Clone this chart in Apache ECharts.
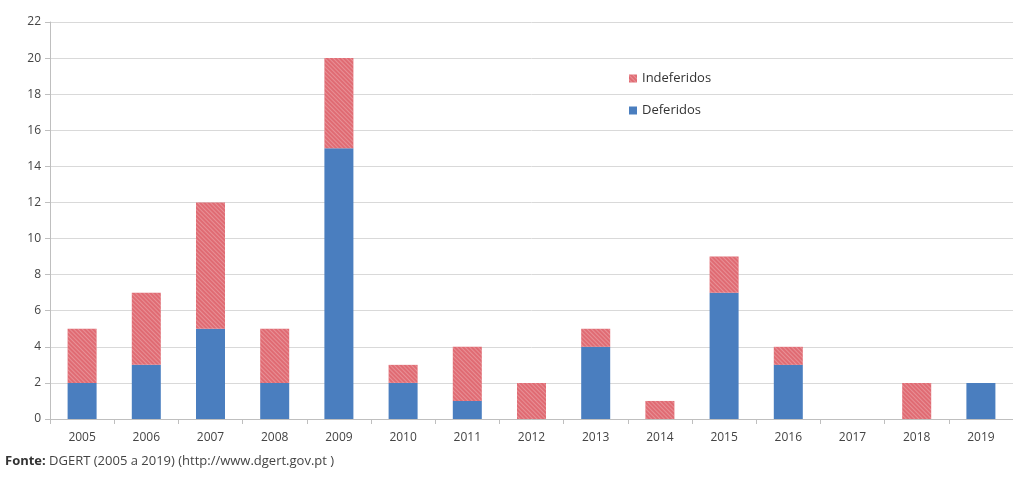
<!DOCTYPE html>
<html>
<head>
<meta charset="utf-8">
<script src="https://cdn.jsdelivr.net/npm/echarts@6/dist/echarts.min.js"></script>
<style>
html,body{margin:0;padding:0;background:#fff;}
#main{width:1013px;height:481px;}
</style>
</head>
<body>
<div id="main"></div>
<script>
/*dados*/
var anos = ['2005','2006','2007','2008','2009','2010','2011','2012','2013','2014','2015','2016','2017','2018','2019'];
var deferidos = [2, 3, 5, 2, 15, 2, 1, 0, 4, 0, 7, 3, 0, 0, 2];
var indeferidos = [3, 4, 7, 3, 5, 1, 3, 2, 1, 1, 2, 1, 0, 2, 0];

var chart = echarts.init(document.getElementById('main'));
var fonte = '"Open Sans", "Liberation Sans", sans-serif';

var option = {
    animation: false,
    textStyle: {fontFamily: fonte},
    grid: {left: 50, right: -12, top: 22, bottom: 62},
    legend: {
        orient: 'vertical',
        left: 624,
        top: 67,
        itemGap: 19,
        itemWidth: 8,
        itemHeight: 8,
        icon: 'rect',
        data: ['Indeferidos', 'Deferidos'],
        textStyle: {fontSize: 13, color: '#333', fontFamily: fonte}
    },
    xAxis: {
        type: 'category',
        data: anos,
        axisLine: {lineStyle: {color: '#bfbfbf'}},
        axisTick: {show: true, length: 5, lineStyle: {color: '#bfbfbf'}},
        axisLabel: {color: '#444', fontSize: 12, margin: 13}
    },
    yAxis: {
        type: 'value',
        min: 0,
        max: 22,
        interval: 2,
        axisLine: {show: true, lineStyle: {color: '#bfbfbf'}},
        axisTick: {show: true, length: 5, lineStyle: {color: '#bfbfbf'}},
        splitLine: {lineStyle: {color: '#d9d9d9'}},
        axisLabel: {color: '#444', fontSize: 12, margin: 9}
    },
    series: [
        {
            name: 'Deferidos',
            type: 'bar',
            stack: 'total',
            barWidth: 29,
            data: deferidos,
            itemStyle: {color: '#4a7ebf'}
        },
        {
            name: 'Indeferidos',
            type: 'bar',
            stack: 'total',
            barWidth: 29,
            data: indeferidos,
            itemStyle: {
                color: '#e06b73',
                decal: {
                    symbol: 'rect',
                    dashArrayX: [1, 0],
                    dashArrayY: [1, 2],
                    rotation: Math.PI / 4,
                    color: 'rgba(255,255,255,0.25)'
                }
            }
        }
    ],
    graphic: [{
        type: 'text',
        left: 5,
        top: 455,
        style: {
            rich: {
                b: {fontWeight: 'bold', fontSize: 13, fill: '#333', fontFamily: fonte},
                n: {fontSize: 13, fill: '#444', fontFamily: fonte}
            },
            text: '{b|Fonte:} {n|DGERT (2005 a 2019) (http://www.dgert.gov.pt )}'
        }
    }]
};
chart.setOption(option);
</script>
</body>
</html>
